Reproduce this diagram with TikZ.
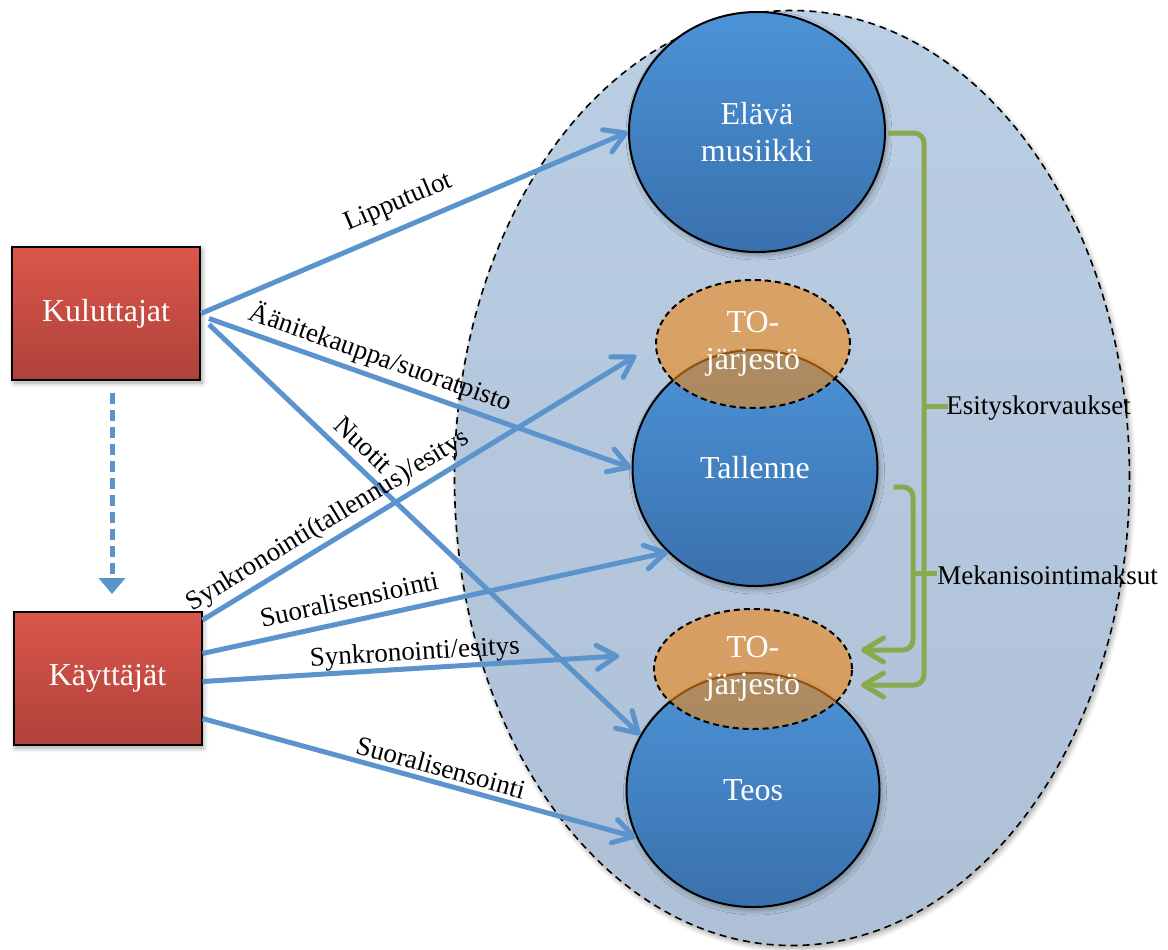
\documentclass[tikz,border=0pt]{standalone}
\usepackage{fontspec}
\setmainfont{Liberation Serif}
\usetikzlibrary{arrows.meta,calc,shadows.blur,shapes.geometric}

\definecolor{linkblue}{RGB}{91,148,205}
\definecolor{fieldA}{RGB}{186,206,228}
\definecolor{fieldB}{RGB}{174,192,213}
\definecolor{ballA}{RGB}{76,147,215}
\definecolor{ballB}{RGB}{57,112,172}
\definecolor{boxA}{RGB}{219,86,75}
\definecolor{boxB}{RGB}{174,66,58}
\definecolor{orgfill}{RGB}{240,135,20}
\definecolor{bracegreen}{RGB}{138,168,78}

\begin{document}
\begin{tikzpicture}[x=0.5pt,y=-0.5pt,
  softshadow/.style={blur shadow={shadow xshift=1pt,shadow yshift=-1.5pt,
      shadow blur radius=2.5pt,shadow blur steps=6,shadow opacity=35}},
  whitetext/.style={text=white,font=\fontsize{16}{18.5}\selectfont,align=center},
  field/.style={ellipse,draw=black,line width=0.8pt,dash pattern=on 3.5pt off 2.5pt,
      top color=fieldA,bottom color=fieldB,minimum width=337.5pt,minimum height=467.5pt,
      softshadow},
  ball/.style={ellipse,draw=black,line width=1pt,top color=ballA,bottom color=ballB,
      inner sep=0pt,whitetext,softshadow},
  org/.style={ellipse,draw=black,line width=1pt,dash pattern=on 3pt off 2pt,
      fill=orgfill,fill opacity=0.6,draw opacity=1,text opacity=1,inner sep=0pt,whitetext},
  actor/.style={rectangle,draw=black,line width=1pt,top color=boxA,bottom color=boxB,
      minimum width=94pt,minimum height=66.5pt,whitetext,softshadow},
  link/.style={draw=linkblue,line width=2.5pt,
      -{Straight Barb[length=10pt,width=12pt,round]}},
  lbl/.style={font=\fontsize{13.5}{15}\selectfont,text=black,sloped,inner sep=0pt},
  brace/.style={draw=bracegreen,line width=2.5pt,rounded corners=5pt},
  bracetip/.style={-{Straight Barb[length=10pt,width=12pt,round]}},
  bracelbl/.style={font=\fontsize{13.5}{15}\selectfont,text=black,anchor=west,inner sep=0pt}
]
\useasboundingbox (0,0) rectangle (1168,949);

% the field holding the three kinds of rights
\node[field] (field) at (792,478) {};

% rights
\node[ball,minimum width=128pt,minimum height=120pt] (ela) at (757,132) {Elävä\\musiikki};
\node[ball,minimum width=122.5pt,minimum height=118pt] (tal) at (755,468) {Tallenne};
\node[ball,minimum width=126.5pt,minimum height=117pt] (teos) at (753,790) {Teos};

% collecting societies
\node[org,minimum width=97pt,minimum height=64pt] (to1) at (753,344) {TO-\\järjestö};
\node[org,minimum width=99pt,minimum height=60pt] (to2) at (753,669) {TO-\\järjestö};

% payers
\node[actor] (kul) at (106,313.5) {Kuluttajat};
\node[actor] (kay) at (107.5,678.5) {Käyttäjät};

% consumers become users
\draw[draw=linkblue,line width=2.5pt,dash pattern=on 5.5pt off 3pt,
      -{Triangle[length=8pt,width=13pt]}]
  ($(kul.south)+(6,12)$) -- ($(kay.north)+(4.5,-17)$);

% money flows
\draw[link] (kul.east) --
  node[lbl,pos=0.485,above=5pt] {Lipputulot} (ela.west);
\draw[link] ($(kul.east)+(8,5)$) --
  node[lbl,pos=0.39,above=2pt] {Äänitekauppa/suoratpisto} (tal.west);
\draw[link] ($(kul.east)+(8,11)$) --
  node[lbl,pos=0.327,above=4pt] {Nuotit} (teos.154);
\draw[link,shorten >=11pt] ($(kay.north east)+(0,9)$) --
  node[lbl,pos=0.30,above=2pt] {Synkronointi(tallennus)/esitys} (to1.west);
\draw[link] ($(kay.east)+(0,-25)$) --
  node[lbl,pos=0.325,above=5pt] {Suoralisensiointi} (tal.224);
\draw[link,shorten >=18.5pt] ($(kay.east)+(0,3)$) --
  node[lbl,pos=0.47,above=0pt] {Synkronointi/esitys} (to2.171);
\draw[link] ($(kay.east)+(0,40)$) --
  node[lbl,pos=0.54,above=2pt] {Suoralisensointi} (teos.202);

% royalties passed on to the collecting society
\node[bracelbl] (esi) at (946,408) {Esityskorvaukset};
\node[bracelbl] (mek) at (937,575) {Mekanisointimaksut};
\draw[brace] ($(esi.west)+(-23,-2)$) -- ($(esi.west)+(2,-2)$);
\draw[brace] ($(mek.west)+(-25,-2)$) -- ($(mek.west)+(0,-2)$);
\draw[brace,bracetip] ($(ela.east)+(2,1)$) -| ($(to2.east)+(71,16)$) -- ($(to2.east)+(8,16)$);
\draw[brace,bracetip] ($(tal.east)+(15,19)$) -| ($(to2.east)+(60,-19)$) -- ($(to2.east)+(8,-19)$);
\end{tikzpicture}
\end{document}
